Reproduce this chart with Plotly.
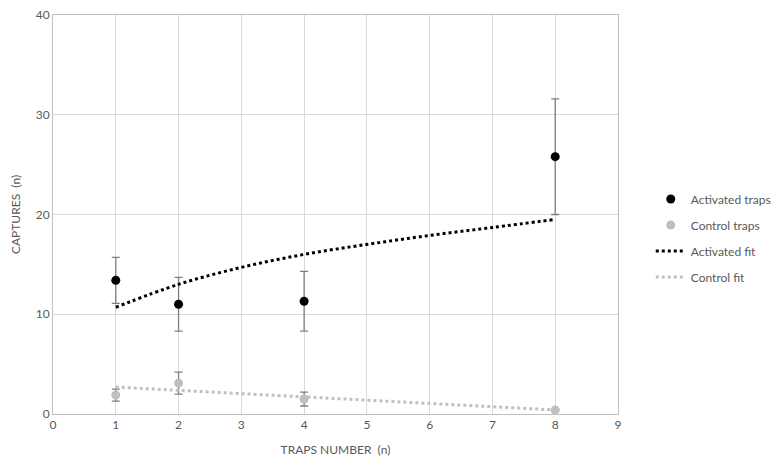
import plotly.graph_objects as go

# trap counts and mean captures
traps = [1, 2, 4, 8]
activated = [13.4, 11.0, 11.3, 25.8]
activated_err = [2.3, 2.7, 3.0, 5.8]
control = [1.9, 3.1, 1.5, 0.4]
control_err = [0.6, 1.1, 0.7, 0.1]

# fitted trend lines as drawn on the chart
fit_x = [1, 2, 3, 4, 5, 6, 7, 8]
activated_fit = [10.7, 13.0, 14.7, 16.0, 17.0, 17.9, 18.7, 19.5]
control_fit = [2.7, 2.37, 2.04, 1.71, 1.38, 1.05, 0.72, 0.4]

grey_text = "#595959"
grid = "#d9d9d9"

fig = go.Figure()

fig.add_trace(go.Scatter(
    x=traps, y=activated, mode="markers", name="Activated traps",
    legendgroup="a",
    marker=dict(color="black", size=9),
    error_y=dict(type="data", array=activated_err, color="#7f7f7f",
                 thickness=1.3, width=4),
))
fig.add_trace(go.Scatter(
    x=traps, y=control, mode="markers", name="Control traps",
    legendgroup="b",
    marker=dict(color="#bfbfbf", size=9),
    error_y=dict(type="data", array=control_err, color="#7f7f7f",
                 thickness=1.3, width=4),
))
fig.add_trace(go.Scatter(
    x=fit_x, y=activated_fit, mode="lines", name="Activated fit",
    legendgroup="c", line_shape="spline",
    line=dict(color="black", width=3, dash="3px,3px"),
))
fig.add_trace(go.Scatter(
    x=fit_x, y=control_fit, mode="lines", name="Control fit",
    legendgroup="d",
    line=dict(color="#c0c0c0", width=3, dash="3px,3px"),
))

fig.update_layout(
    width=780, height=466,
    margin=dict(l=45, r=170, t=7, b=60),
    plot_bgcolor="white", paper_bgcolor="white",
    font=dict(family="Lato, sans-serif", size=12, color=grey_text),
    legend=dict(x=1.058, y=0.441, xanchor="left", yanchor="middle",
                tracegroupgap=7, font=dict(size=12, color=grey_text)),
    xaxis=dict(
        range=[0, 9], dtick=1, showgrid=True, gridcolor=grid,
        showline=True, linecolor="#bfbfbf", mirror=True, zeroline=False,
        automargin=False, ticks="",
        title=dict(text="TRAPS NUMBER  (n)", standoff=14,
                   font=dict(size=12, color=grey_text)),
    ),
    yaxis=dict(
        range=[0, 40], dtick=10, showgrid=True, gridcolor=grid,
        showline=True, linecolor="#bfbfbf", mirror=True, zeroline=False,
        automargin=False, ticks="", ticklabeloverflow="allow",
        title=dict(text="CAPTURES  (n)", standoff=22,
                   font=dict(size=12, color=grey_text)),
    ),
)

fig.write_html("out.html")
